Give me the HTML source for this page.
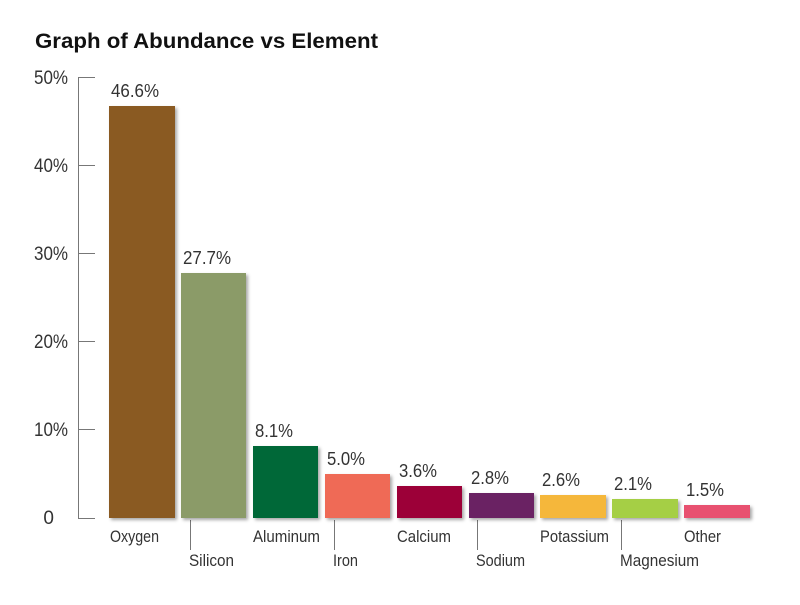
<!DOCTYPE html>
<html><head><meta charset="utf-8"><style>
body{margin:0;background:#fff;}
svg text{font-family:"Liberation Sans",sans-serif;fill:#333;}
</style></head><body>
<svg width="800" height="600" xmlns="http://www.w3.org/2000/svg">
<defs><filter id="s" x="-20%" y="-20%" width="140%" height="140%"><feDropShadow dx="2" dy="2" stdDeviation="1.5" flood-color="#000" flood-opacity="0.35"/></filter></defs>
<text x="35" y="48" font-size="21" font-weight="bold" textLength="343" lengthAdjust="spacingAndGlyphs" style="fill:#111">Graph of Abundance vs Element</text>
<g stroke="#777" stroke-width="1" fill="none">
<path d="M78.5 77V518.5H95"/>
<path d="M78 77.5H95M78 165.5H95M78 253.5H95M78 341.5H95M78 429.5H95"/>
<path d="M190.5 520V550M334.5 520V550M477.5 520V550M621.5 520V550"/>
</g>
<g font-size="19" text-anchor="end" lengthAdjust="spacingAndGlyphs">
<text x="68" y="84" textLength="34" lengthAdjust="spacingAndGlyphs">50%</text><text x="68" y="172" textLength="34" lengthAdjust="spacingAndGlyphs">40%</text><text x="68" y="260" textLength="34" lengthAdjust="spacingAndGlyphs">30%</text><text x="68" y="348" textLength="34" lengthAdjust="spacingAndGlyphs">20%</text><text x="68" y="436" textLength="34" lengthAdjust="spacingAndGlyphs">10%</text><text x="54" y="524">0</text>
</g>
<g filter="url(#s)">
<rect x="109" y="106" width="66" height="412" fill="#8a5a24"/>
<rect x="181" y="273" width="65" height="245" fill="#8b9b68"/>
<rect x="253" y="446" width="65" height="72" fill="#006837"/>
<rect x="325" y="474" width="65" height="44" fill="#ef6a57"/>
<rect x="397" y="486" width="65" height="32" fill="#9c0038"/>
<rect x="469" y="493" width="65" height="25" fill="#6b2463"/>
<rect x="540" y="495" width="66" height="23" fill="#f5b73b"/>
<rect x="612" y="499" width="66" height="19" fill="#a5cf45"/>
<rect x="684" y="505" width="66" height="13" fill="#e8516f"/>
</g>
<g font-size="18">
<text x="111" y="97" textLength="48" lengthAdjust="spacingAndGlyphs">46.6%</text><text x="183" y="264" textLength="48" lengthAdjust="spacingAndGlyphs">27.7%</text><text x="255" y="437" textLength="38" lengthAdjust="spacingAndGlyphs">8.1%</text><text x="327" y="465" textLength="38" lengthAdjust="spacingAndGlyphs">5.0%</text><text x="399" y="477" textLength="38" lengthAdjust="spacingAndGlyphs">3.6%</text><text x="471" y="484" textLength="38" lengthAdjust="spacingAndGlyphs">2.8%</text><text x="542" y="486" textLength="38" lengthAdjust="spacingAndGlyphs">2.6%</text><text x="614" y="490" textLength="38" lengthAdjust="spacingAndGlyphs">2.1%</text><text x="686" y="496" textLength="38" lengthAdjust="spacingAndGlyphs">1.5%</text>
</g>
<g font-size="17">
<text x="110" y="542" textLength="49" lengthAdjust="spacingAndGlyphs">Oxygen</text>
<text x="189" y="566" textLength="45" lengthAdjust="spacingAndGlyphs">Silicon</text>
<text x="253" y="542" textLength="67" lengthAdjust="spacingAndGlyphs">Aluminum</text>
<text x="333" y="566" textLength="25" lengthAdjust="spacingAndGlyphs">Iron</text>
<text x="397" y="542" textLength="54" lengthAdjust="spacingAndGlyphs">Calcium</text>
<text x="476" y="566" textLength="49" lengthAdjust="spacingAndGlyphs">Sodium</text>
<text x="540" y="542" textLength="69" lengthAdjust="spacingAndGlyphs">Potassium</text>
<text x="620" y="566" textLength="79" lengthAdjust="spacingAndGlyphs">Magnesium</text>
<text x="684" y="542" textLength="37" lengthAdjust="spacingAndGlyphs">Other</text>
</g>
</svg>
</body></html>
